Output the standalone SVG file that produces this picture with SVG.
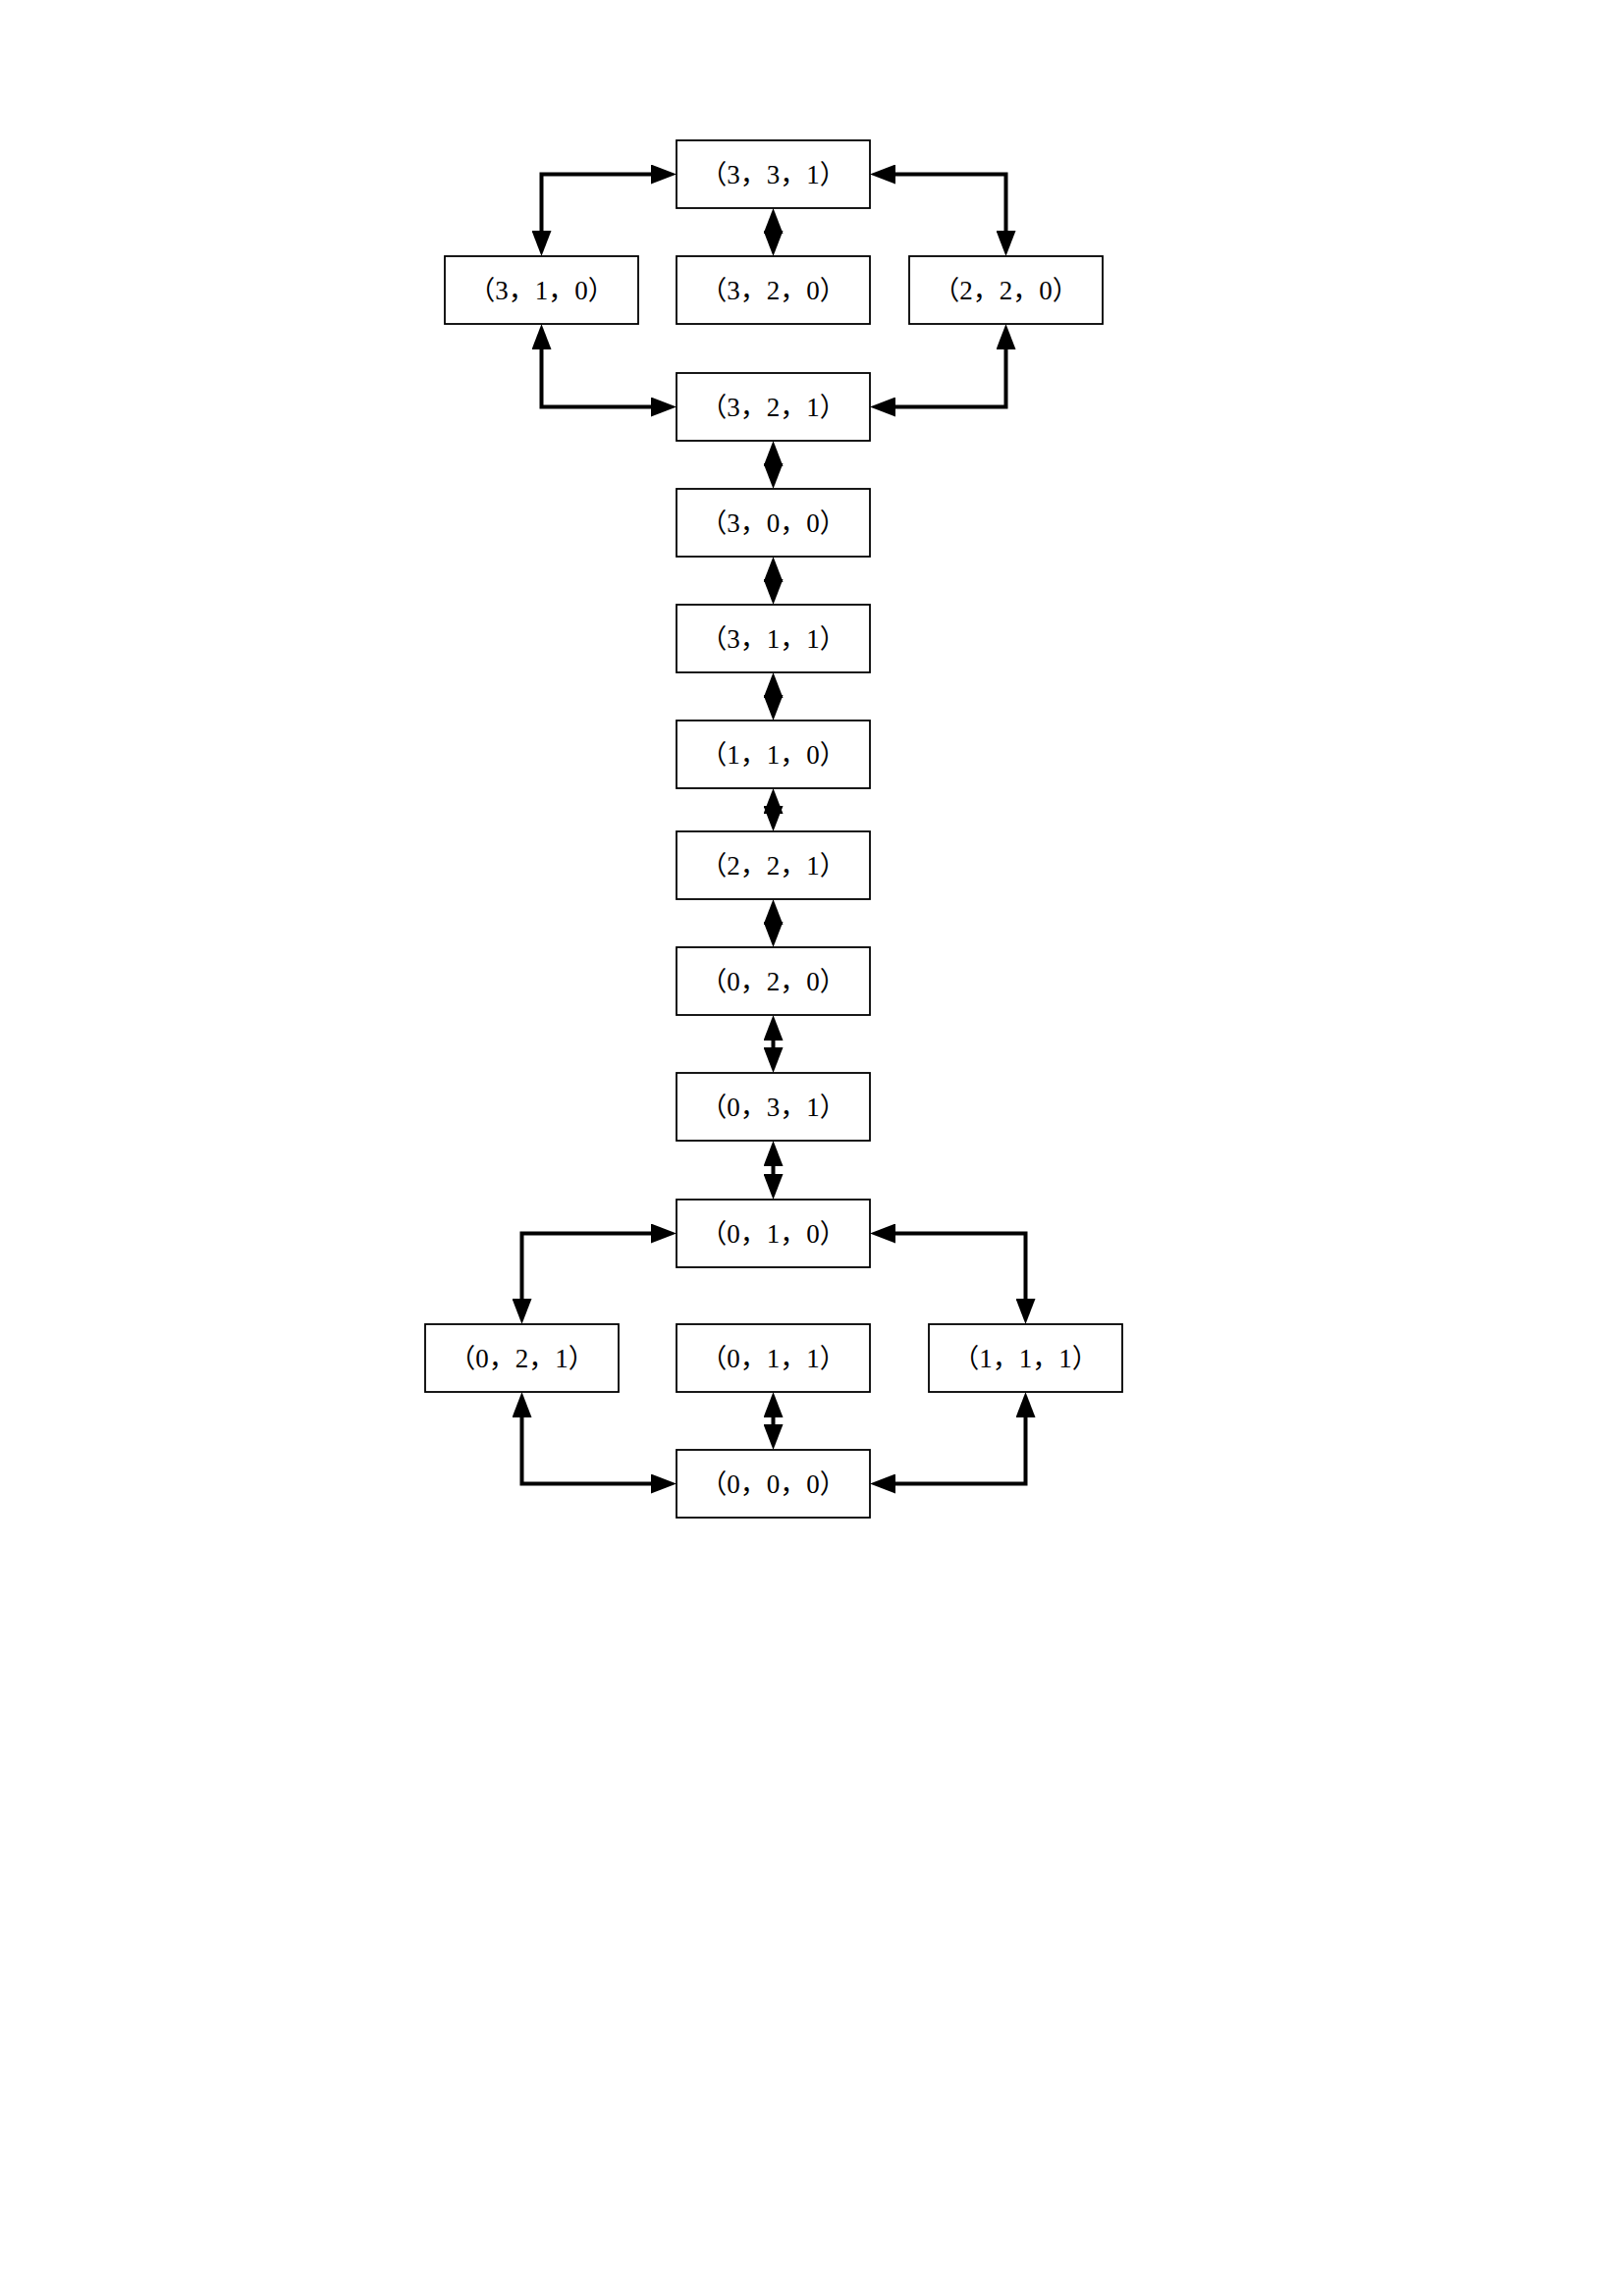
<svg xmlns="http://www.w3.org/2000/svg" width="1654" height="2339" viewBox="0 0 1654 2339">
<style>
.box{fill:#fff;stroke:#000;stroke-width:1.8}
.lbl{font-family:"Liberation Serif","Noto Sans CJK SC",serif;font-size:27px;fill:#000;text-anchor:middle}
.c{fill:none;stroke:#000;stroke-width:4}
</style>
<defs>
<marker id="ah" markerUnits="userSpaceOnUse" markerWidth="26" markerHeight="20" viewBox="0 0 26 20" refX="16" refY="10" orient="auto-start-reverse">
<path d="M0,0 L26,10 L0,20 z" fill="#000"/>
</marker>
</defs>
<rect width="1654" height="2339" fill="#fff"/>
<g id="connectors">
<path class="c" marker-start="url(#ah)" marker-end="url(#ah)" d="M679,177.5 H551.5 V251"/>
<path class="c" marker-start="url(#ah)" marker-end="url(#ah)" d="M896,177.5 H1024.5 V251"/>
<path class="c" marker-start="url(#ah)" marker-end="url(#ah)" d="M679,414.5 H551.5 V340"/>
<path class="c" marker-start="url(#ah)" marker-end="url(#ah)" d="M896,414.5 H1024.5 V340"/>
<path class="c" marker-start="url(#ah)" marker-end="url(#ah)" d="M679,1256.5 H531.5 V1339"/>
<path class="c" marker-start="url(#ah)" marker-end="url(#ah)" d="M896,1256.5 H1044.5 V1339"/>
<path class="c" marker-start="url(#ah)" marker-end="url(#ah)" d="M679,1511.5 H531.5 V1428"/>
<path class="c" marker-start="url(#ah)" marker-end="url(#ah)" d="M896,1511.5 H1044.5 V1428"/>
<path class="c" marker-start="url(#ah)" marker-end="url(#ah)" d="M787.5,222 V251"/>
<path class="c" marker-start="url(#ah)" marker-end="url(#ah)" d="M787.5,459 V488"/>
<path class="c" marker-start="url(#ah)" marker-end="url(#ah)" d="M787.5,577 V606"/>
<path class="c" marker-start="url(#ah)" marker-end="url(#ah)" d="M787.5,695 V724"/>
<path class="c" marker-start="url(#ah)" marker-end="url(#ah)" d="M787.5,813 V837"/>
<path class="c" marker-start="url(#ah)" marker-end="url(#ah)" d="M787.5,926 V955"/>
<path class="c" marker-start="url(#ah)" marker-end="url(#ah)" d="M787.5,1044 V1083"/>
<path class="c" marker-start="url(#ah)" marker-end="url(#ah)" d="M787.5,1172 V1212"/>
<path class="c" marker-start="url(#ah)" marker-end="url(#ah)" d="M787.5,1428 V1467"/>
</g>
<g id="n331"><rect class="box" x="689" y="143" width="197" height="69"/><text class="lbl" x="787.5" y="187">（3，3，1）</text></g>
<g id="n310"><rect class="box" x="453" y="261" width="197" height="69"/><text class="lbl" x="551.5" y="305">（3，1，0）</text></g>
<g id="n320"><rect class="box" x="689" y="261" width="197" height="69"/><text class="lbl" x="787.5" y="305">（3，2，0）</text></g>
<g id="n220"><rect class="box" x="926" y="261" width="197" height="69"/><text class="lbl" x="1024.5" y="305">（2，2，0）</text></g>
<g id="n321"><rect class="box" x="689" y="380" width="197" height="69"/><text class="lbl" x="787.5" y="424">（3，2，1）</text></g>
<g id="n300"><rect class="box" x="689" y="498" width="197" height="69"/><text class="lbl" x="787.5" y="542">（3，0，0）</text></g>
<g id="n311"><rect class="box" x="689" y="616" width="197" height="69"/><text class="lbl" x="787.5" y="660">（3，1，1）</text></g>
<g id="n110"><rect class="box" x="689" y="734" width="197" height="69"/><text class="lbl" x="787.5" y="778">（1，1，0）</text></g>
<g id="n221"><rect class="box" x="689" y="847" width="197" height="69"/><text class="lbl" x="787.5" y="891">（2，2，1）</text></g>
<g id="n020"><rect class="box" x="689" y="965" width="197" height="69"/><text class="lbl" x="787.5" y="1009">（0，2，0）</text></g>
<g id="n031"><rect class="box" x="689" y="1093" width="197" height="69"/><text class="lbl" x="787.5" y="1137">（0，3，1）</text></g>
<g id="n010"><rect class="box" x="689" y="1222" width="197" height="69"/><text class="lbl" x="787.5" y="1266">（0，1，0）</text></g>
<g id="n021"><rect class="box" x="433" y="1349" width="197" height="69"/><text class="lbl" x="531.5" y="1393">（0，2，1）</text></g>
<g id="n011"><rect class="box" x="689" y="1349" width="197" height="69"/><text class="lbl" x="787.5" y="1393">（0，1，1）</text></g>
<g id="n111"><rect class="box" x="946" y="1349" width="197" height="69"/><text class="lbl" x="1044.5" y="1393">（1，1，1）</text></g>
<g id="n000"><rect class="box" x="689" y="1477" width="197" height="69"/><text class="lbl" x="787.5" y="1521">（0，0，0）</text></g>
</svg>
